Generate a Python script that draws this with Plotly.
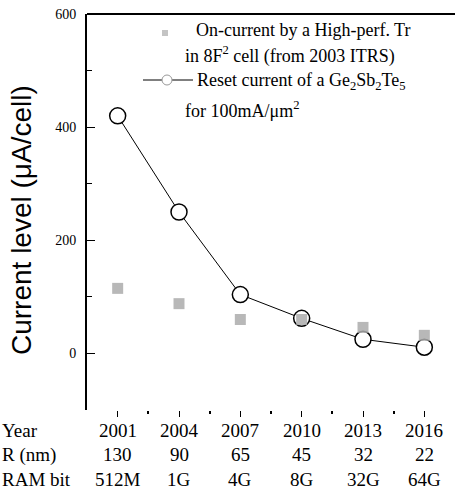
import plotly.graph_objects as go

years = [2001, 2004, 2007, 2010, 2013, 2016]
node_nm = ["130", "90", "65", "45", "32", "22"]
dram_bit = ["512M", "1G", "4G", "8G", "32G", "64G"]
reset_current = [420, 250, 104, 62, 25, 11]
on_current = [115, 88, 60, 60, 46, 32]

SERIF = "Liberation Serif"
SANS = "Liberation Sans"

fig = go.Figure()
fig.add_trace(go.Scatter(
    x=years, y=reset_current, mode="lines+markers",
    line=dict(color="black", width=1),
    marker=dict(symbol="circle", size=16, color="white",
                line=dict(color="black", width=1.5)),
    showlegend=False))
fig.add_trace(go.Scatter(
    x=years, y=on_current, mode="markers",
    marker=dict(symbol="square", size=11, color="#ababab", opacity=0.85,
                line=dict(width=0)),
    showlegend=False))

L, T, W, H = 87, 14, 368, 396

def px(x):
    return (x - L) / W

def py(y):
    return (T + H - y) / H

ann = []
rows = [("Year", [str(y) for y in years], 430),
        ("R (nm)", node_nm, 455),
        ("RAM bit", dram_bit, 480)]
for head, vals, ypix in rows:
    ann.append(dict(text=head, xref="paper", yref="paper", x=px(0), y=py(ypix),
                    xanchor="left", yanchor="middle", showarrow=False,
                    font=dict(family=SERIF, size=19, color="black")))
    for xv, v in zip(years, vals):
        ann.append(dict(text=v, xref="x", yref="paper", x=xv, y=py(ypix),
                        xanchor="center", yanchor="middle", showarrow=False,
                        font=dict(family=SERIF, size=19, color="black")))

leg = [("On-current by a High-perf. Tr", 194, 30),
       ("in 8F<sup>2</sup> cell (from 2003 ITRS)", 183, 55),
       ("Reset current of a Ge<sub>2</sub>Sb<sub>2</sub>Te<sub>5</sub>", 195, 81),
       ("for 100mA/\u03bcm<sup>2</sup>", 183, 109)]
for t, xp, yp in leg:
    ann.append(dict(text=t, xref="paper", yref="paper", x=px(xp), y=py(yp),
                    xanchor="left", yanchor="middle", showarrow=False,
                    font=dict(family=SERIF, size=18, color="black")))

ann.append(dict(text="Current level (\u03bcA/cell)", xref="paper", yref="paper",
                x=px(21), y=py(220), textangle=-90, xanchor="center",
                yanchor="middle", showarrow=False,
                font=dict(family=SANS, size=28, color="black")))

shapes = [
    dict(type="line", xref="paper", yref="paper", x0=0, x1=1, y0=1, y1=1,
         line=dict(color="black", width=2)),
    dict(type="rect", xref="paper", yref="paper",
         x0=px(162), x1=px(168), y0=py(30), y1=py(36),
         fillcolor="#c4c4c4", line=dict(width=0)),
    dict(type="line", xref="paper", yref="paper",
         x0=px(143), x1=px(193), y0=py(80), y1=py(80),
         line=dict(color="black", width=1)),
    dict(type="circle", xref="paper", yref="paper",
         x0=px(162), x1=px(172), y0=py(75), y1=py(85),
         fillcolor="white", line=dict(color="#999999", width=1)),
]

fig.update_layout(
    width=455, height=493,
    margin=dict(l=L, r=0, t=T, b=493 - T - H),
    plot_bgcolor="white", paper_bgcolor="white",
    annotations=ann, shapes=shapes,
    xaxis=dict(range=[1999.5, 2017.5], tickvals=years, showticklabels=False,
               ticks="outside", ticklen=6, tickwidth=1, tickcolor="black",
               showgrid=False, zeroline=False, showline=False,
               minor=dict(tickvals=[2002.5, 2005.5, 2008.5, 2011.5, 2014.5],
                          ticks="outside", ticklen=3, tickwidth=1.5,
                          tickcolor="black")),
    yaxis=dict(range=[-100, 600], tickvals=[0, 200, 400, 600],
               ticks="inside", ticklen=8, tickwidth=1, tickcolor="black",
               showgrid=False, zeroline=False, showline=True,
               linecolor="black", linewidth=2, ticklabelstandoff=6,
               tickfont=dict(family=SERIF, size=14, color="black"),
               minor=dict(tickvals=[100, 300, 500], ticks="inside",
                          ticklen=5, tickwidth=1, tickcolor="black")),
)

fig.write_html("out.html")
